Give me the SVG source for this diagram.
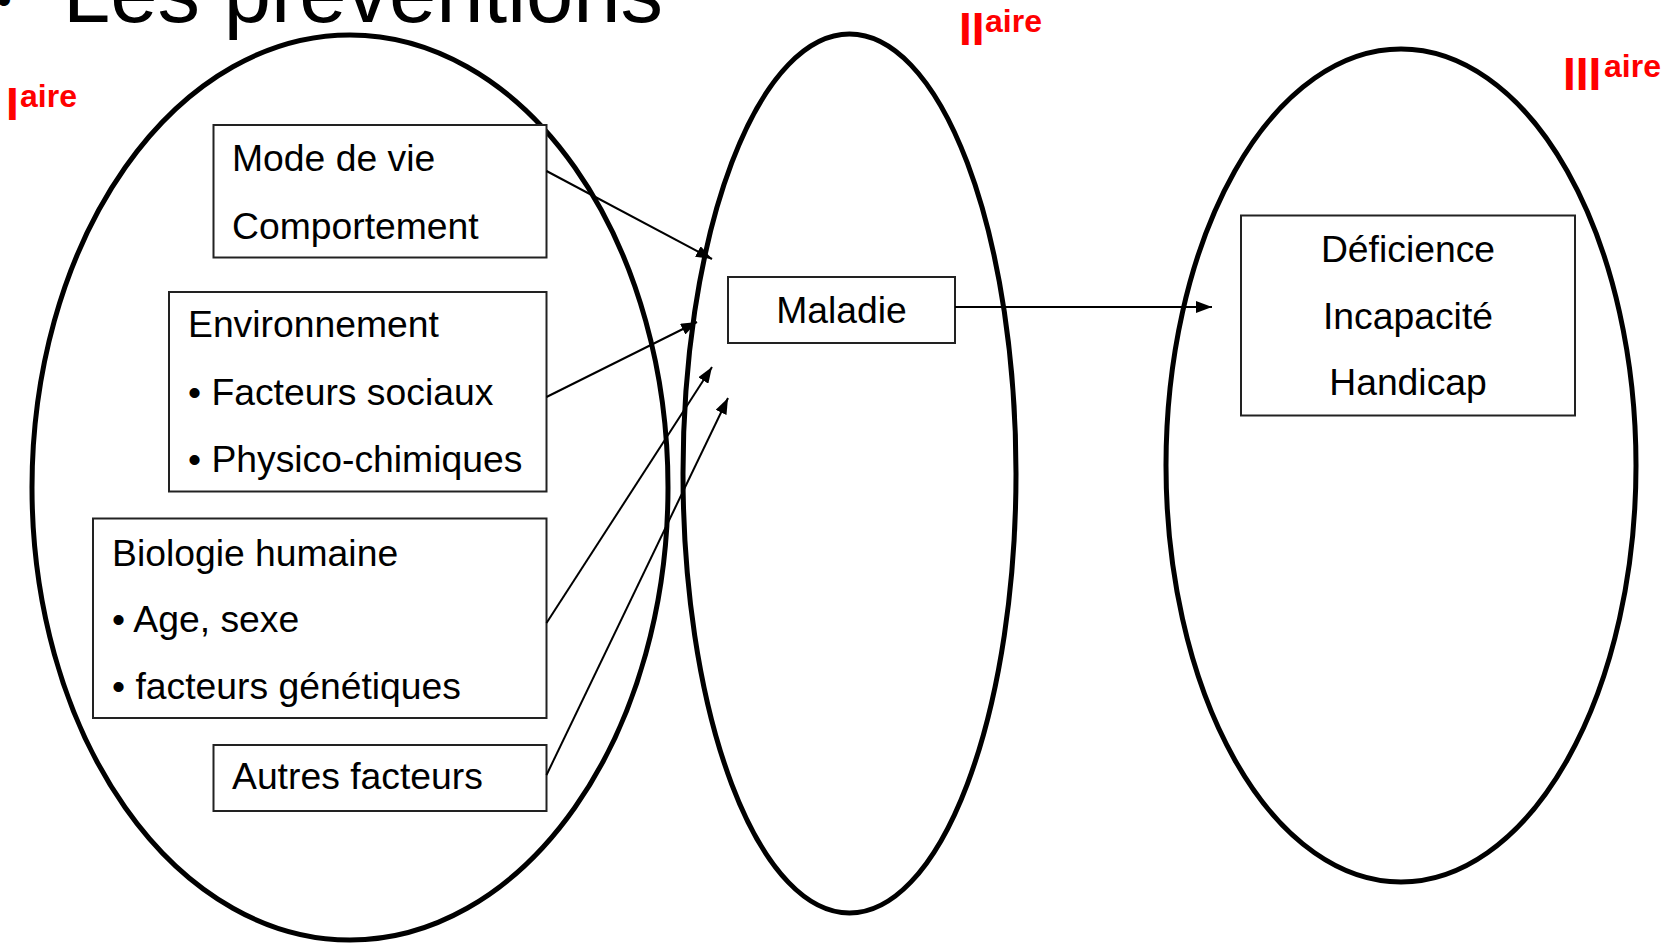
<svg xmlns="http://www.w3.org/2000/svg" width="1674" height="943" viewBox="0 0 1674 943">
<style>
.ell{fill:none;stroke:#000;stroke-width:5}
.box{fill:#fff;stroke:#222;stroke-width:2}
.t{font-family:"Liberation Sans",Arial,sans-serif;font-size:37.3px;fill:#000}
.c{text-anchor:middle}
.red{font-family:"Liberation Sans",Arial,sans-serif;font-weight:bold;fill:#ff0000}
.big{font-size:46px}
.sup{font-size:32px}
.con{fill:none;stroke:#000;stroke-width:2}
</style>
<defs>
<marker id="ah" markerUnits="userSpaceOnUse" markerWidth="16" markerHeight="12" refX="16" refY="6" orient="auto">
<path d="M0,0 L16,6 L0,12 z" fill="#000"/>
</marker>
</defs>
<rect width="1674" height="943" fill="#fff"/>
<g id="title">
<text class="t" style="font-size:85px"><tspan x="-4" y="15" style="font-size:45px">•</tspan><tspan x="63" y="22">Les préventions</tspan></text>
</g>
<g id="primaire">
<ellipse class="ell" cx="350" cy="487.5" rx="318" ry="452.5"/>
<text class="red"><tspan class="big" x="6" y="120">I</tspan><tspan class="sup" x="20" y="107">aire</tspan></text>
</g>
<g id="secondaire">
<ellipse class="ell" cx="849.5" cy="473.5" rx="166.5" ry="439.5"/>
<text class="red"><tspan class="big" x="959" y="45">II</tspan><tspan class="sup" x="985" y="32">aire</tspan></text>
</g>
<g id="tertiaire">
<ellipse class="ell" cx="1401" cy="465.5" rx="235" ry="416.5"/>
<text class="red"><tspan class="big" x="1563" y="90">III</tspan><tspan class="sup" x="1604" y="77">aire</tspan></text>
</g>
<g id="mode-de-vie">
<rect class="box" x="213.5" y="125" width="333" height="132.5"/>
<text class="t" x="232" y="171">Mode de vie</text>
<text class="t" x="232" y="239">Comportement</text>
</g>
<g id="environnement">
<rect class="box" x="169" y="292" width="377.5" height="199.5"/>
<text class="t" x="188" y="337">Environnement</text>
<text class="t" x="188" y="405">• Facteurs sociaux</text>
<text class="t" x="188" y="472">• Physico-chimiques</text>
</g>
<g id="biologie">
<rect class="box" x="93" y="518.5" width="453.5" height="199.5"/>
<text class="t" x="112" y="566">Biologie humaine</text>
<text class="t" x="112" y="632">• Age, sexe</text>
<text class="t" x="112" y="699">• facteurs génétiques</text>
</g>
<g id="autres">
<rect class="box" x="213.5" y="745" width="333" height="66"/>
<text class="t" x="232" y="789">Autres facteurs</text>
</g>
<g id="maladie">
<rect class="box" x="728" y="277" width="227" height="66"/>
<text class="t c" x="841.5" y="323">Maladie</text>
</g>
<g id="consequences">
<rect class="box" x="1241" y="215.5" width="334" height="200"/>
<text class="t c" x="1408" y="262">Déficience</text>
<text class="t c" x="1408" y="329">Incapacité</text>
<text class="t c" x="1408" y="395">Handicap</text>
</g>
<g id="connectors">
<line class="con" x1="546.5" y1="171" x2="712" y2="259" marker-end="url(#ah)"/>
<line class="con" x1="546.5" y1="397" x2="697" y2="322" marker-end="url(#ah)"/>
<line class="con" x1="546.5" y1="623" x2="712" y2="367" marker-end="url(#ah)"/>
<line class="con" x1="546.5" y1="775" x2="728" y2="398" marker-end="url(#ah)"/>
<line class="con" x1="955" y1="307" x2="1212" y2="307" marker-end="url(#ah)"/>
</g>
</svg>
